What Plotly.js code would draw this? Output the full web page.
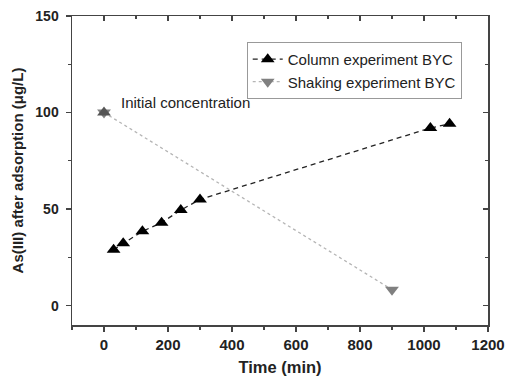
<!DOCTYPE html>
<html><head><meta charset="utf-8">
<script src="https://cdn.plot.ly/plotly-3.0.1.min.js"></script>
<style>html,body{margin:0;padding:0;background:#fff}#c{width:507px;height:379px}</style>
</head><body><div id="c"></div>
<script>
const columnTime = [30, 60, 120, 180, 240, 300, 1020, 1080];
const columnConc = [29, 32.3, 38.5, 43, 49.5, 55, 92, 94.2];
const shakingTime = [0, 900];
const shakingConc = [100, 8.3];
const initialTime = [0];
const initialConc = [100];
const xRange = [-100, 1200];
const yRange = [-10, 150];

const font = {family: 'Liberation Sans, Arial, sans-serif', color: '#000'};
const traces = [
  {x: columnTime, y: columnConc, name: 'Column experiment BYC', mode: 'lines+markers',
   line: {color: '#222', dash: '5px,4px', width: 1.3},
   marker: {symbol: 'triangle-up', size: 12, color: '#000'}},
  {x: shakingTime, y: shakingConc, name: 'Shaking experiment BYC', mode: 'lines+markers',
   line: {color: '#b5b5b5', dash: 'dot', width: 1.3},
   marker: {symbol: 'triangle-down', size: 12, color: '#808080'}},
  {x: initialTime, y: initialConc, mode: 'markers', showlegend: false,
   marker: {symbol: 'triangle-up', size: 12, color: '#555'}},
  {x: initialTime, y: initialConc, mode: 'markers', showlegend: false, xaxis: 'x2', yaxis: 'y2',
   marker: {symbol: 'triangle-up', size: 0.1, color: 'rgba(0,0,0,0)'}, hoverinfo: 'skip'}
];
const layout = {
  width: 507, height: 379,
  margin: {l: 72, r: 19, t: 16, b: 54},
  paper_bgcolor: '#fff', plot_bgcolor: '#fff',
  showlegend: true,
  legend: {x: 0.42, y: 0.916, xanchor: 'left', yanchor: 'top', bordercolor: '#999', borderwidth: 1,
    bgcolor: '#fff', font: {family: font.family, size: 15, color: '#222'}, tracegroupgap: 0, itemwidth: 30},
  xaxis: {range: xRange, dtick: 200, tick0: 0, ticks: 'outside', ticklen: 5, tickwidth: 1.5,
    showgrid: false, zeroline: false, showline: true, linecolor: '#444', linewidth: 1.5,
    tickfont: {family: font.family, size: 15, color: '#222', weight: 'bold'},
    minor: {dtick: 100, tick0: 0, ticks: 'outside', ticklen: 3, tickwidth: 1.2, showgrid: false},
    title: {text: 'Time (min)', font: {family: font.family, size: 16.5, color: '#222', weight: 'bold'}, standoff: 10}},
  yaxis: {range: yRange, dtick: 50, tick0: 0, ticks: 'outside', ticklen: 5, tickwidth: 1.5,
    showgrid: false, zeroline: false, showline: true, linecolor: '#444', linewidth: 1.5,
    ticklabelstandoff: 4,
    tickfont: {family: font.family, size: 14, color: '#222', weight: 'bold'},
    minor: {dtick: 25, tick0: 0, ticks: 'outside', ticklen: 3, tickwidth: 1.2, showgrid: false},
    title: {text: 'As(III) after adsorption (μg/L)', font: {family: font.family, size: 15, color: '#222', weight: 'bold'}, standoff: 8}},
  xaxis2: {range: xRange, overlaying: 'x', side: 'top', anchor: 'y2', dtick: 200, tick0: 0,
    ticks: 'inside', ticklen: 5, tickwidth: 1.5, showticklabels: false, showgrid: false, zeroline: false,
    showline: true, linecolor: '#444', linewidth: 1.5,
    minor: {dtick: 100, tick0: 0, ticks: 'inside', ticklen: 3, tickwidth: 1.2, showgrid: false}},
  yaxis2: {range: yRange, overlaying: 'y', side: 'right', anchor: 'x2', dtick: 50, tick0: 0,
    ticks: 'inside', ticklen: 5, tickwidth: 1.5, showticklabels: false, showgrid: false, zeroline: false,
    showline: true, linecolor: '#444', linewidth: 1.5,
    minor: {dtick: 25, tick0: 0, ticks: 'inside', ticklen: 3, tickwidth: 1.2, showgrid: false}},
  annotations: [{x: 48, y: 105, xref: 'x', yref: 'y', text: 'Initial concentration', showarrow: false,
    xanchor: 'left', yanchor: 'middle', font: {family: font.family, size: 15, color: '#222'}}]
};
Plotly.newPlot('c', traces, layout, {displayModeBar: false, staticPlot: true});
</script></body></html>
